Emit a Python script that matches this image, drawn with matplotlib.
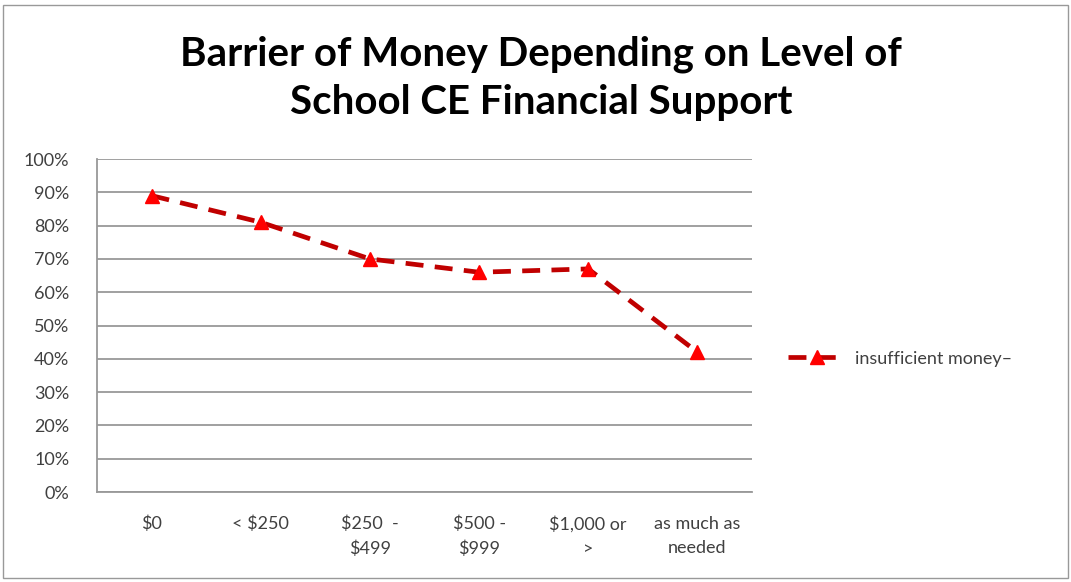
import matplotlib.pyplot as plt
from matplotlib.patches import Rectangle
from matplotlib.ticker import PercentFormatter

plt.rcParams['font.family'] = ['Lato', 'DejaVu Sans']

# categories and values
levels = ["$0", "< $250", "$250  -\n$499", "$500 -\n$999", "$1,000 or\n>", "as much as\nneeded"]
insufficient_money = [0.89, 0.81, 0.70, 0.66, 0.67, 0.42]
series_name = "insufficient money\u2013"

fig = plt.figure(figsize=(10.71, 5.82), dpi=100)
ax = fig.add_axes([0.0906, 0.1546, 0.6115, 0.5722])

x = range(len(levels))
ax.plot(x, insufficient_money, color='#C00000', lw=3.4, ls=(0, (3.8, 2.4)),
        marker='^', markersize=10, markerfacecolor='#FF0000', markeredgecolor='#FF0000',
        label=series_name)

ax.set_xlim(-0.5, len(levels) - 0.5)
ax.set_ylim(0, 1.0)
ax.set_yticks([i / 10 for i in range(11)])
ax.yaxis.set_major_formatter(PercentFormatter(1.0, decimals=0))
ax.set_xticks(list(x))
ax.set_xticklabels(levels, fontsize=13, color='#404040', linespacing=1.65)
ax.tick_params(axis='y', labelsize=13, colors='#404040', length=0, pad=20)
ax.tick_params(axis='x', length=0, pad=17)
ax.grid(axis='y', color='#999999', lw=1.3)
ax.set_axisbelow(True)
for s in ['top', 'right']:
    ax.spines[s].set_visible(False)
for s in ['left', 'bottom']:
    ax.spines[s].set_color('#999999')
    ax.spines[s].set_linewidth(1.3)

fig.text(0.505, 0.866, "Barrier of Money Depending on Level of\nSchool CE Financial Support",
         ha='center', va='center', fontsize=29, fontweight='bold', linespacing=1.38)

ax.legend(loc='center left', bbox_to_anchor=(1.03, 0.4), frameon=False, fontsize=13,
          handlelength=3.2, handletextpad=0.5, labelcolor='#404040')

fig.add_artist(Rectangle((0.003, 0.007), 0.994, 0.985, transform=fig.transFigure,
                         fill=False, edgecolor='#999999', lw=1))

fig.savefig('out.png', dpi=100, facecolor='white')
